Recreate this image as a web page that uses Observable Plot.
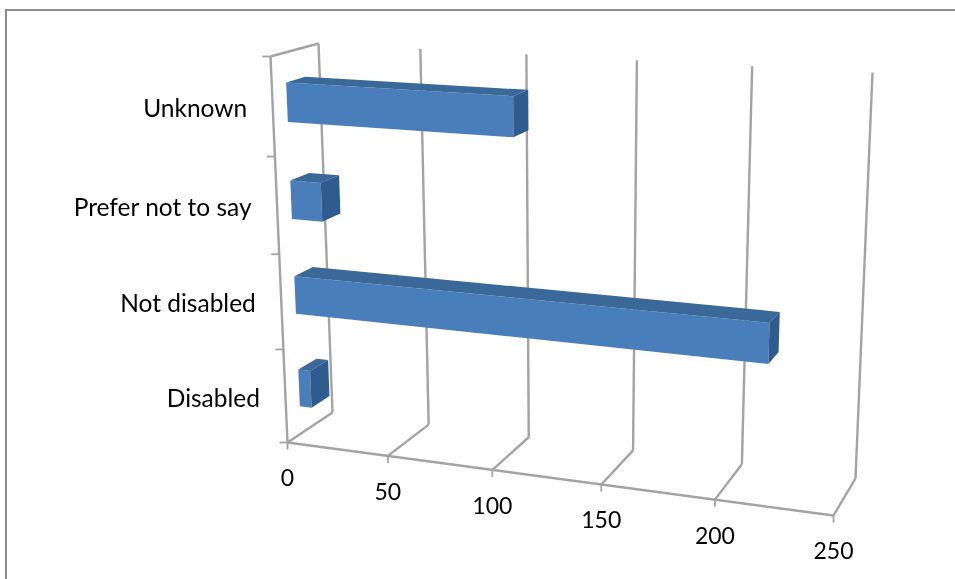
<!DOCTYPE html>
<html>
<head>
<meta charset="utf-8">
<script src="https://cdn.jsdelivr.net/npm/d3@7"></script>
<script src="https://cdn.jsdelivr.net/npm/@observablehq/plot@0.6"></script>
<style>
html,body{margin:0;padding:0;background:#fff}
svg{display:block;filter:blur(0.4px)}
#chart{position:relative;width:955px;height:579px;overflow:hidden}
#chart::before{content:"";position:absolute;left:5px;top:9px;width:960px;height:580px;border-left:2px solid #8c8c8c;border-top:2px solid #8c8c8c;z-index:1}
</style>
</head>
<body>
<div id="chart"></div>
<script>
// Data
const categories = ["Disabled", "Not disabled", "Prefer not to say", "Unknown"];
const values = [6, 218, 15, 106];
const valueTicks = [0, 50, 100, 150, 200, 250];
const valueMax = 250;

// Camera of the tilted 3-D box: where its eight corners fall on the page
const corner = {
  f00: [287, 442], f10: [833, 515], f01: [270, 56], f11: [849.5, 88],
  b00: [332, 412], b10: [855, 478], b01: [318, 43], b11: [872, 72]
};
const foreshortenV = 1.11, foreshortenH = 1.05;
const persp = (u, k) => u / (u + k * (1 - u));
function project(value, height, depth) {
  const t = persp(value / valueMax, foreshortenV), h = persp(height, foreshortenH), d = depth;
  const mix = i => {
    const f = (1 - t) * ((1 - h) * corner.f00[i] + h * corner.f01[i]) + t * ((1 - h) * corner.f10[i] + h * corner.f11[i]);
    const b = (1 - t) * ((1 - h) * corner.b00[i] + h * corner.b01[i]) + t * ((1 - h) * corner.b10[i] + h * corner.b11[i]);
    return (1 - d) * f + d * b;
  };
  return {x: mix(0), y: mix(1)};
}

const n = categories.length;
const barShare = 0.4, depthLo = 0.3, depthHi = 0.7;

// Polygons for the three visible faces of every bar
const faces = [];
categories.forEach((c, i) => {
  const lo = (i + 0.5 - barShare / 2) / n, hi = (i + 0.5 + barShare / 2) / n, v = values[i];
  const add = (face, pts) => pts.forEach(p => faces.push({id: c + face, face, ...project(...p)}));
  add("front", [[0, lo, depthLo], [v, lo, depthLo], [v, hi, depthLo], [0, hi, depthLo]]);
  add("top", [[0, hi, depthLo], [v, hi, depthLo], [v, hi, depthHi], [0, hi, depthHi]]);
  add("side", [[v, lo, depthLo], [v, lo, depthHi], [v, hi, depthHi], [v, hi, depthLo]]);
});

// Wall, floor and tick lines of the box
const rules = [];
const seg = (id, a, b) => { rules.push({id, ...project(...a)}, {id, ...project(...b)}); };
seg("floor", [0, 0, 0], [valueMax, 0, 0]);
seg("left", [0, 0, 0], [0, 1, 0]);
seg("topdepth", [0, 1, 0], [0, 1, 1]);
valueTicks.forEach(v => {
  seg("d" + v, [v, 0, 0], [v, 0, 1]);
  seg("w" + v, [v, 0, 1], [v, 1, 1]);
});
const tickEnds = valueTicks.map(v => ({v, ...project(v, 0, 0)}));
const catEnds = d3.range(n + 1).map(i => project(0, i / n, 0));
const catLabels = categories.map((c, i) => ({c, ...project(0, (i + 0.5) / n, 0)}));

const faceColor = {front: "#4a7ebb", top: "#3a6899", side: "#2f5b8e"};
const font = "Lato, Carlito, sans-serif";

const plot = Plot.plot({
  width: 955, height: 579,
  margin: 0,
  style: {fontFamily: font, background: "#fff"},
  x: {domain: [0, 955], range: [0, 955], axis: null},
  y: {domain: [0, 579], range: [0, 579], axis: null},
  marks: [
    Plot.line(rules, {x: "x", y: "y", z: "id", stroke: "#a3a3a3", strokeWidth: 2.4, strokeLinecap: "butt"}),
    Plot.link(catEnds, {x1: d => d.x - 8, x2: "x", y1: "y", y2: "y", stroke: "#a3a3a3", strokeWidth: 1.8}),
    Plot.link(tickEnds, {x1: "x", y1: "y", x2: "x", y2: d => d.y + 7, stroke: "#a3a3a3", strokeWidth: 1.8}),
    Plot.line(faces, {x: "x", y: "y", z: "id", fill: d => faceColor[d.face], stroke: "none", curve: "linear-closed"}),
    Plot.text(catLabels, {x: d => d.x - 25.5, y: d => d.y + 2.5, text: "c", textAnchor: "end", fontSize: 24.5, fill: "#000"}),
    Plot.text(tickEnds, {x: "x", y: d => d.y + 36.5, text: d => String(d.v), fontSize: 23, fill: "#000"})
  ]
});
document.getElementById("chart").append(plot);
</script>
</body>
</html>
